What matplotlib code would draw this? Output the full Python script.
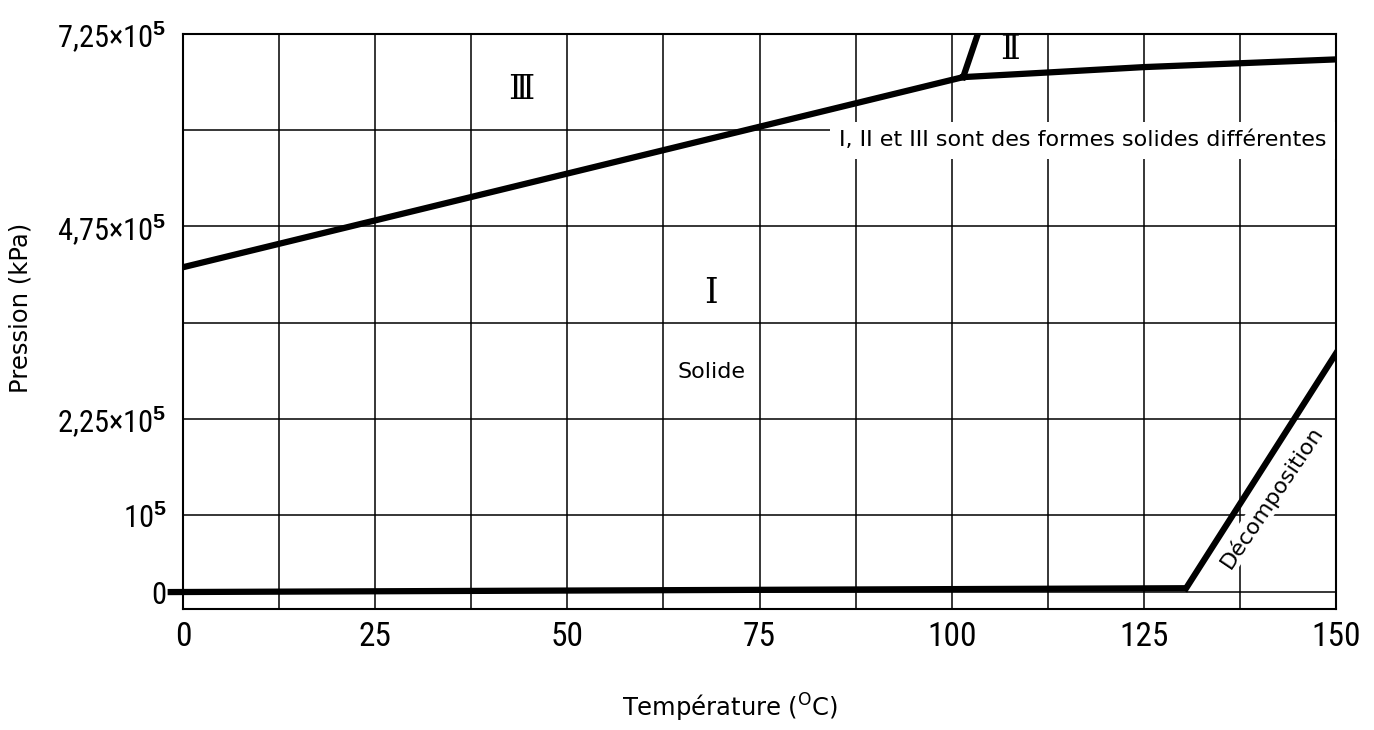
import matplotlib
matplotlib.use("Agg")
import matplotlib.pyplot as plt
import numpy as np

plt.rcParams['mathtext.fontset'] = 'custom'
plt.rcParams['mathtext.rm'] = 'DejaVu Sans'
plt.rcParams['mathtext.sf'] = 'DejaVu Sans'
plt.rcParams['mathtext.bf'] = 'Liberation Sans:bold'
plt.rcParams['mathtext.it'] = 'DejaVu Sans:italic'

# phase boundaries (temperature in degC, pressure in kPa)
base_t = [-2, 130.5]
base_p = [0, 0.05e5]
decomp_t = [130.5, 150]
decomp_p = [0.05e5, 3.1e5]
III_I_t = [0, 101.5]
III_I_p = [4.22e5, 6.69e5]
II_III_t = [101.5, 103.4]
II_III_p = [6.69e5, 7.25e5]
I_II_t = [101.5, 112.5, 125, 137.5, 150]
I_II_p = [6.69e5, 6.75e5, 6.82e5, 6.87e5, 6.92e5]

xticks = [0, 25, 50, 75, 100, 125, 150]
xgrid_minor = [12.5, 37.5, 62.5, 87.5, 112.5, 137.5]
yticks = [0, 1e5, 2.25e5, 4.75e5, 7.25e5]
ytick_labels = ['0', '10$^{\\mathbf{5}}$', '2,25×10$^{\\mathbf{5}}$',
                '4,75×10$^{\\mathbf{5}}$', '7,25×10$^{\\mathbf{5}}$']
ygrid_minor = [3.5e5, 6e5]

narrow = ['Roboto Condensed', 'DejaVu Sans']
sans = ['DejaVu Sans']
serif = ['DejaVu Serif', 'DejaVu Sans']

fig = plt.figure(figsize=(13.74, 7.30), dpi=100)
ax = fig.add_axes([183/1374, 1 - 609/730, (1336-183)/1374, (609-34)/730])

ax.set_xlim(0, 150)
ax.set_ylim(-0.22e5, 7.25e5)

ax.set_xticks(xticks)
ax.set_xticks(xgrid_minor, minor=True)
ax.set_yticks(yticks)
ax.set_yticks(ygrid_minor, minor=True)
ax.set_yticklabels(ytick_labels)
ax.grid(True, which='both', color='black', linewidth=1.1)
ax.set_axisbelow(True)
ax.tick_params(which='both', length=0)
ax.tick_params(axis='x', pad=9, labelsize=24)
ax.tick_params(axis='y', pad=12, labelsize=22)
for lab in ax.get_xticklabels() + ax.get_yticklabels():
    lab.set_family(narrow)

for s in ax.spines.values():
    s.set_linewidth(1.5)

lw = 4.5
ax.plot(base_t, base_p, color='black', lw=lw, clip_on=False, solid_capstyle='butt', zorder=3)
ax.plot(decomp_t, decomp_p, color='black', lw=lw, solid_joinstyle='miter', zorder=3)
ax.plot(III_I_t, III_I_p, color='black', lw=lw, zorder=3)
ax.plot(II_III_t, II_III_p, color='black', lw=lw, zorder=3)
ax.plot(I_II_t, I_II_p, color='black', lw=lw, zorder=3)

ax.text(44, 6.52e5, 'Ⅲ', family=serif, fontsize=24, ha='center', va='center')
ax.text(107.6, 7.04e5, 'Ⅱ', family=serif, fontsize=24, ha='center', va='center')
ax.text(68.7, 3.88e5, 'I', family=serif, fontsize=25, ha='center', va='center')
ax.text(68.7, 2.86e5, 'Solide', family=sans, fontsize=16, ha='center', va='center')
ax.text(117.0, 5.87e5, 'I, II et III sont des formes solides différentes',
        family=sans, fontsize=16, ha='center', va='center', zorder=5,
        bbox=dict(facecolor='white', edgecolor='none', pad=6))
ax.text(141.6, 1.23e5, 'Décomposition', family=sans, fontsize=16,
        rotation=56, ha='center', va='center', rotation_mode='anchor', zorder=5,
        bbox=dict(facecolor='white', edgecolor='none', pad=1))

fig.text(730/1374, 1 - 708/730, 'Température ($^{\\mathsf{O}}$C)', family=sans,
         fontsize=17.5, ha='center', va='center')
fig.text(21/1374, 1 - 308/730, 'Pression (kPa)', family=sans, fontsize=17.5,
         rotation=90, ha='center', va='center')

fig.savefig('out.png', dpi=100)
